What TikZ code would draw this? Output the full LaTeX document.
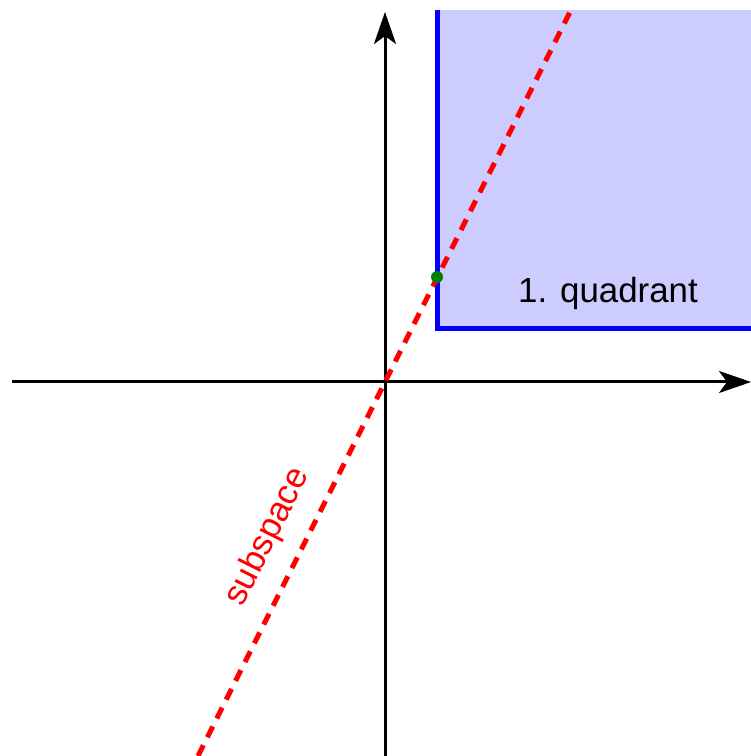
\documentclass[tikz,border=0pt]{standalone}
\usepackage{fontspec}
\setmainfont{Liberation Sans}
\usetikzlibrary{arrows.meta}
\definecolor{quadfill}{RGB}{204,204,255}
\tikzset{
  axis/.style={line width=3bp,-{Stealth[length=32bp,width=22bp,inset=8bp]}},
  border/.style={draw=blue,line width=5bp},
  subline/.style={draw=red,line width=5bp,dash pattern=on 12bp off 9bp},
  lbl/.style={font=\fontsize{35}{42}\selectfont,inner sep=0pt}
}
\begin{document}
\begin{tikzpicture}[x=1bp,y=1bp]
\useasboundingbox (0,0) rectangle (751,756);
\coordinate (O) at (385,374);
\coordinate (corner) at (437,427);
\coordinate (ctop) at (437,746);
\coordinate (cright) at (751,427);
\coordinate (xl) at (12,374);
\coordinate (xr) at (751,374);
\coordinate (yb) at (385,0);
\coordinate (yt) at (385,744);
\coordinate (sa) at (198,0);
\coordinate (sb) at (570,744);
\fill[quadfill] (corner) rectangle (751,746);
\draw[axis] (xl) -- (xr);
\draw[axis] (yb) -- (yt);
\draw[border] (ctop) -- (corner) -- (cright);
\draw[subline] (sa) -- (sb);
\fill[green!50!black] (437,479) circle (6bp) node (pt) {};
\node[lbl] (q) at (608,463) {1. quadrant};
\node[lbl,text=red,rotate=63.43] (s) at (268,219) {subspace};
\end{tikzpicture}
\end{document}
